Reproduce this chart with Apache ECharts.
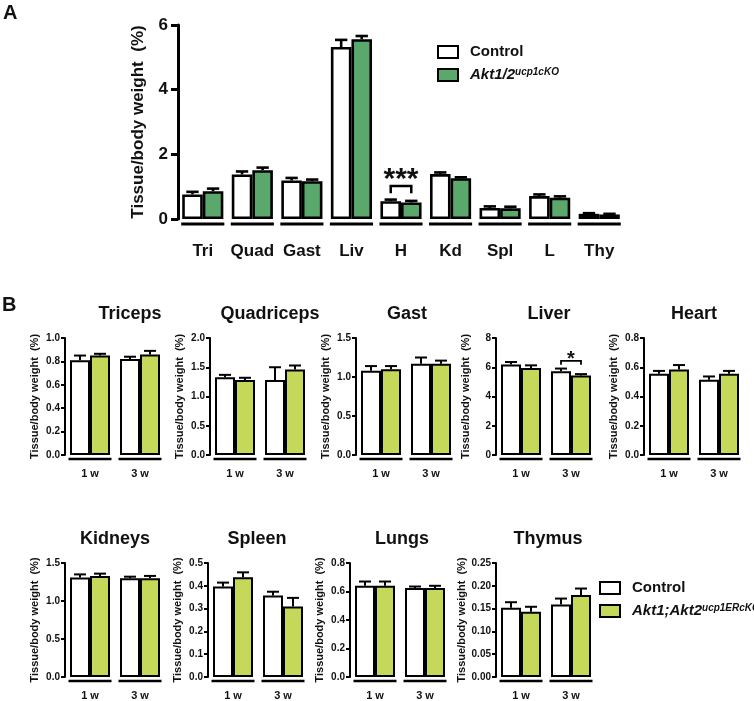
<!DOCTYPE html>
<html><head><meta charset="utf-8">
<script src="https://cdn.jsdelivr.net/npm/echarts@6/dist/echarts.min.js"></script>
<style>html,body{margin:0;padding:0;background:#fff}#c{width:754px;height:701px}</style>
</head><body><div id="c"></div>
<script>
// ---------- Panel A data ----------
const tissuesA = ['Tri','Quad','Gast','Liv','H','Kd','Spl','L','Thy'];
const ctrlA    = [0.76, 1.38, 1.19, 5.32, 0.55, 1.39, 0.34, 0.71, 0.16];
const ctrlAErr = [0.08, 0.09, 0.08, 0.22, 0.05, 0.05, 0.05, 0.05, 0.02];
const koA      = [0.86, 1.51, 1.17, 5.56, 0.51, 1.26, 0.33, 0.66, 0.14];
const koAErr   = [0.08, 0.08, 0.05, 0.10, 0.05, 0.03, 0.05, 0.04, 0.02];
const sigA     = {cat: 4, leg: 0.80, top: 1.02, text: '***'};

// ---------- Panel B data ----------
const weeks = ['1 w', '3 w'];
const tricepsCtrl = [0.81, 0.82],  tricepsCtrlErr = [0.04, 0.02];
const tricepsKO   = [0.85, 0.86],  tricepsKOErr   = [0.015, 0.03];
const quadCtrl    = [1.33, 1.28],  quadCtrlErr    = [0.04, 0.22];
const quadKO      = [1.28, 1.46],  quadKOErr      = [0.04, 0.07];
const gastCtrl    = [1.08, 1.17],  gastCtrlErr    = [0.06, 0.08];
const gastKO      = [1.10, 1.17],  gastKOErr      = [0.04, 0.04];
const liverCtrl   = [6.18, 5.73],  liverCtrlErr   = [0.18, 0.18];
const liverKO     = [5.95, 5.43],  liverKOErr     = [0.18, 0.10];
const heartCtrl   = [0.555, 0.515], heartCtrlErr  = [0.02, 0.022];
const heartKO     = [0.585, 0.555], heartKOErr    = [0.03, 0.02];
const kidneyCtrl  = [1.31, 1.30],  kidneyCtrlErr  = [0.04, 0.02];
const kidneyKO    = [1.33, 1.30],  kidneyKOErr    = [0.03, 0.03];
const spleenCtrl  = [0.397, 0.357], spleenCtrlErr = [0.017, 0.017];
const spleenKO    = [0.437, 0.309], spleenKOErr   = [0.022, 0.038];
const lungCtrl    = [0.64, 0.625], lungCtrlErr    = [0.03, 0.01];
const lungKO      = [0.64, 0.625], lungKOErr      = [0.03, 0.015];
const thymusCtrl  = [0.152, 0.159], thymusCtrlErr = [0.012, 0.013];
const thymusKO    = [0.143, 0.180], thymusKOErr   = [0.011, 0.014];
const sigLiver    = {cat: 1, leg: 6.17, top: 6.44, text: '*'};

// axis scales (max, interval, decimals)
const panelsB = [
  {title:'Triceps',    ctrl:tricepsCtrl, ce:tricepsCtrlErr, ko:tricepsKO, ke:tricepsKOErr, max:1.0, step:0.2, dec:1},
  {title:'Quadriceps', ctrl:quadCtrl,    ce:quadCtrlErr,    ko:quadKO,    ke:quadKOErr,    max:2.0, step:0.5, dec:1},
  {title:'Gast',       ctrl:gastCtrl,    ce:gastCtrlErr,    ko:gastKO,    ke:gastKOErr,    max:1.5, step:0.5, dec:1},
  {title:'Liver',      ctrl:liverCtrl,   ce:liverCtrlErr,   ko:liverKO,   ke:liverKOErr,   max:8,   step:2,   dec:0, sig:sigLiver},
  {title:'Heart',      ctrl:heartCtrl,   ce:heartCtrlErr,   ko:heartKO,   ke:heartKOErr,   max:0.8, step:0.2, dec:1},
  {title:'Kidneys',    ctrl:kidneyCtrl,  ce:kidneyCtrlErr,  ko:kidneyKO,  ke:kidneyKOErr,  max:1.5, step:0.5, dec:1},
  {title:'Spleen',     ctrl:spleenCtrl,  ce:spleenCtrlErr,  ko:spleenKO,  ke:spleenKOErr,  max:0.5, step:0.1, dec:1},
  {title:'Lungs',      ctrl:lungCtrl,    ce:lungCtrlErr,    ko:lungKO,    ke:lungKOErr,    max:0.8, step:0.2, dec:1},
  {title:'Thymus',     ctrl:thymusCtrl,  ce:thymusCtrlErr,  ko:thymusKO,  ke:thymusKOErr,  max:0.25,step:0.05,dec:2}
];

// ---------- layout (pixels) ----------
const FONT = '"Liberation Sans", Arial, Helvetica, sans-serif';
const INK = '#111';
const greenA = '#5aa86c';
const greenB = '#c5d85a';
const layoutB = [
  {left:65,  top:338, h:117, tx:130},
  {left:210, top:338, h:117, tx:270},
  {left:356, top:338, h:117, tx:407},
  {left:496, top:338, h:117, tx:549},
  {left:644, top:338, h:117, tx:694},
  {left:65,  top:563, h:116, tx:115},
  {left:208, top:563, h:116, tx:257},
  {left:350, top:563, h:116, tx:402},
  {left:496, top:563, h:116, tx:548}
];

const grids = [], xAxes = [], yAxes = [], series = [], graphics = [];

function errRender(sign, gap, lw, capFrac) {
  return function (params, api) {
    const i = api.value(0), v = api.value(1), e = api.value(2);
    const band = api.size([1, 0])[0];
    const bw = band * (1 - gap) / 2;
    const p0 = api.coord([i, v]);
    const p1 = api.coord([i, v + e]);
    const cx = p0[0] + sign * bw / 2;
    const cap = bw * capFrac;
    return {type:'group', children:[
      {type:'line', shape:{x1:cx, y1:p0[1], x2:cx, y2:p1[1]}, style:{stroke:'#000', lineWidth:lw}},
      {type:'line', shape:{x1:cx-cap, y1:p1[1], x2:cx+cap, y2:p1[1]}, style:{stroke:'#000', lineWidth:lw}}
    ]};
  };
}
function underRender(gap, off, lw, ext) {
  return function (params, api) {
    const i = api.value(0);
    const band = api.size([1, 0])[0];
    const half = band * (1 - gap) / 2 + ext;
    const p = api.coord([i, 0]);
    return {type:'line', shape:{x1:p[0]-half, y1:p[1]+off, x2:p[0]+half, y2:p[1]+off},
            style:{stroke:'#000', lineWidth:lw}};
  };
}
function sigRender(gap, lw, font, textDy) {
  return function (params, api) {
    const i = api.value(0), leg = api.value(1), top = api.value(2);
    const band = api.size([1, 0])[0];
    const bw = band * (1 - gap) / 2;
    const c = api.coord([i, top]);
    const yl = api.coord([i, leg])[1];
    const x1 = c[0] - bw / 2, x2 = c[0] + bw / 2;
    return {type:'group', children:[
      {type:'polyline', shape:{points:[[x1, yl],[x1, c[1]],[x2, c[1]],[x2, yl]]}, style:{stroke:'#000', lineWidth:lw, fill:null}},
      {type:'text', x:c[0], y:c[1] + textDy, style:{text:api.value(3) === 1 ? '***' : '*', font:font, fill:INK, align:'center', verticalAlign:'bottom'}}
    ]};
  };
}

function addPanel(cfg) {
  const gi = grids.length;
  grids.push({left:cfg.left, top:cfg.top, width:cfg.width, height:cfg.height});
  xAxes.push({gridIndex:gi, type:'category', data:cfg.cats,
    axisLine:{show:false}, axisTick:{show:false},
    axisLabel:{color:INK, fontFamily:FONT, fontWeight:'bold', fontSize:cfg.xFont, margin:cfg.xMargin, interval:0}});
  yAxes.push({gridIndex:gi, type:'value', min:0, max:cfg.max, interval:cfg.step,
    name:'Tissue/body weight  (%)', nameLocation:'middle', nameGap:cfg.nameGap,
    nameTextStyle:{color:INK, fontFamily:FONT, fontWeight:'bold', fontSize:cfg.nameFont},
    axisLine:{show:true, lineStyle:{color:'#000', width:cfg.axisW}},
    axisTick:{show:true, length:cfg.tickLen, lineStyle:{color:'#000', width:cfg.axisW}},
    splitLine:{show:false},
    axisLabel:{color:INK, fontFamily:FONT, fontWeight:'bold', fontSize:cfg.yFont, margin:cfg.yMargin,
      formatter: v => Number(v).toFixed(cfg.dec)}});
  const common = {type:'bar', xAxisIndex:gi, yAxisIndex:gi, barGap:'0%', barCategoryGap:(cfg.gap*100)+'%',
    animation:false, silent:true};
  series.push(Object.assign({name:'Control', data:cfg.ctrl,
    itemStyle:{color:'#fff', borderColor:'#000', borderWidth:cfg.bw}, z:2}, common));
  series.push(Object.assign({name:'KO', data:cfg.ko,
    itemStyle:{color:cfg.green, borderColor:'#000', borderWidth:cfg.bw}, z:2}, common));
  series.push({type:'custom', xAxisIndex:gi, yAxisIndex:gi, z:3, silent:true, animation:false,
    renderItem:errRender(-1, cfg.gap, cfg.bw, cfg.cap),
    data:cfg.ctrl.map((v, i) => [i, v, cfg.ce[i]])});
  series.push({type:'custom', xAxisIndex:gi, yAxisIndex:gi, z:3, silent:true, animation:false,
    renderItem:errRender(1, cfg.gap, cfg.bw, cfg.cap),
    data:cfg.ko.map((v, i) => [i, v, cfg.ke[i]])});
  series.push({type:'custom', xAxisIndex:gi, yAxisIndex:gi, z:3, silent:true, animation:false, clip:false,
    renderItem:underRender(cfg.gap, cfg.ulOff, cfg.ulW, cfg.ulExt),
    data:cfg.cats.map((c, i) => [i, 0])});
  if (cfg.sig) {
    series.push({type:'custom', xAxisIndex:gi, yAxisIndex:gi, z:3, silent:true, animation:false, clip:false,
      renderItem:sigRender(cfg.gap, cfg.sigW, cfg.sigFont, cfg.sigDy),
      data:[[cfg.sig.cat, cfg.sig.leg, cfg.sig.top, cfg.sig.text === '***' ? 1 : 0]]});
  }
}

// Panel A
addPanel({left:178, top:25, width:446, height:194, cats:tissuesA, ctrl:ctrlA, ce:ctrlAErr, ko:koA, ke:koAErr,
  max:6, step:2, dec:0, gap:0.17, bw:2.6, cap:0.3, green:greenA,
  xFont:17, xMargin:24, yFont:17, yMargin:10, tickLen:7, axisW:3, nameGap:31, nameFont:17,
  ulOff:5, ulW:3, ulExt:1, sig:sigA, sigW:2.5, sigFont:'bold 30px ' + FONT, sigDy:9});

// Panels B
panelsB.forEach((p, k) => {
  const L = layoutB[k];
  addPanel({left:L.left, top:L.top, width:100, height:L.h, cats:weeks, ctrl:p.ctrl, ce:p.ce, ko:p.ko, ke:p.ke,
    max:p.max, step:p.step, dec:p.dec, gap:0.2, bw:2, cap:0.3, green:greenB,
    xFont:11, xMargin:13, yFont:10, yMargin:5, tickLen:4, axisW:2, nameGap:25, nameFont:11,
    ulOff:4, ulW:2.5, ulExt:1.5, sig:p.sig, sigW:1.8, sigFont:'bold 20px ' + FONT, sigDy:9});
  graphics.push({type:'text', x:L.tx, y:L.top - 24, style:{text:p.title, font:'bold 18px ' + FONT, fill:INK, align:'center', verticalAlign:'middle'}});
});

// panel letters
graphics.push({type:'text', x:3, y:13, style:{text:'A', font:'bold 20px ' + FONT, fill:INK, verticalAlign:'middle'}});
graphics.push({type:'text', x:2, y:305, style:{text:'B', font:'bold 20px ' + FONT, fill:INK, verticalAlign:'middle'}});

// legends
function legend(x, y1, y2, green, koMain, koSup) {
  graphics.push({type:'rect', shape:{x:x, y:y1 - 6, width:20, height:12}, style:{fill:'#fff', stroke:'#000', lineWidth:2}});
  graphics.push({type:'rect', shape:{x:x, y:y2 - 6, width:20, height:12}, style:{fill:green, stroke:'#000', lineWidth:2}});
  graphics.push({type:'text', x:x + 32, y:y1, style:{text:'Control', font:'bold 15px ' + FONT, fill:INK, verticalAlign:'middle'}});
  graphics.push({type:'text', x:x + 32, y:y2, style:{
    text:'{m|' + koMain + '}{s|' + koSup + '}', verticalAlign:'middle', fill:INK,
    rich:{m:{fontFamily:FONT, fontWeight:'bold', fontStyle:'italic', fontSize:15, fill:INK, verticalAlign:'bottom'},
          s:{fontFamily:FONT, fontWeight:'bold', fontStyle:'italic', fontSize:10, fill:INK, verticalAlign:'top'}}}});
}
legend(438, 52, 75, greenA, 'Akt1/2', 'ucp1cKO');
legend(600, 588, 611, greenB, 'Akt1;Akt2', 'ucp1ERcKO');

const chart = echarts.init(document.getElementById('c'), null, {renderer:'canvas'});
chart.setOption({backgroundColor:'#fff', animation:false, grid:grids, xAxis:xAxes, yAxis:yAxes, series:series, graphic:graphics});
</script></body></html>
